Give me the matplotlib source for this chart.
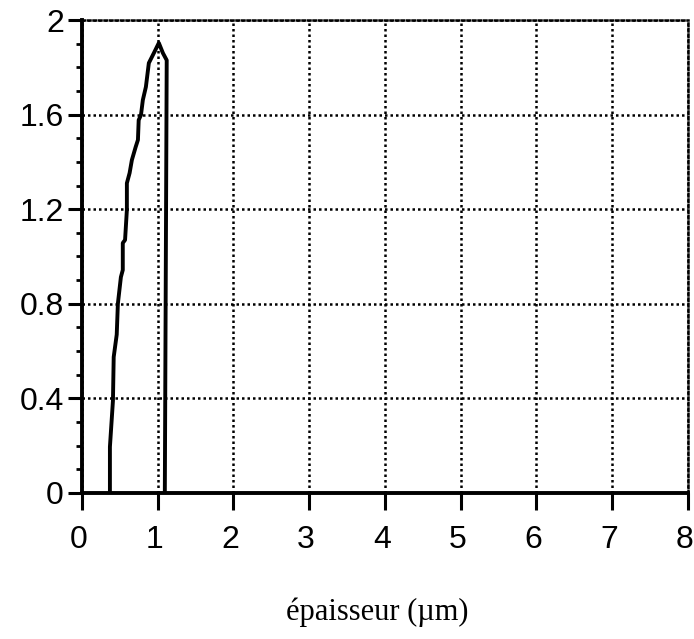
import matplotlib
matplotlib.use("Agg")
import matplotlib.pyplot as plt
import matplotlib.transforms as mtransforms
from matplotlib.ticker import FixedLocator, MultipleLocator

# thickness profile (x in um, y value)
epaisseur = [0.37, 0.37, 0.41, 0.42, 0.46, 0.475, 0.515, 0.54, 0.54, 0.57,
             0.594, 0.594, 0.63, 0.66, 0.71, 0.74, 0.75, 0.78, 0.805, 0.845,
             0.884, 0.95, 1.016, 1.07, 1.12, 1.095]
valeur = [0.0, 0.195, 0.39, 0.575, 0.67, 0.80, 0.913, 0.943, 1.057, 1.07,
          1.197, 1.31, 1.353, 1.408, 1.463, 1.493, 1.577, 1.598, 1.662, 1.717,
          1.818, 1.86, 1.903, 1.86, 1.83, 0.0]

xticks = [0, 1, 2, 3, 4, 5, 6, 7, 8]
yticks = [0, 0.4, 0.8, 1.2, 1.6, 2]
ytick_labels = ["0", "0.4", "0.8", "1.2", "1.6", "2"]

fig = plt.figure(figsize=(6.94, 6.39), dpi=100)
ax = fig.add_axes((0.118, 0.2285, 0.873, 0.7402))

ax.plot(epaisseur, valeur, color="black", lw=2.8, solid_joinstyle="round")

ax.set_xlim(0, 8)
ax.set_ylim(0, 2)
ax.xaxis.set_major_locator(FixedLocator(xticks))
ax.set_yticks(yticks)
ax.set_yticklabels(ytick_labels)
ax.yaxis.set_minor_locator(MultipleLocator(0.1))

ax.grid(True, which="major", color="black", linestyle=(0, (1, 1.2)), lw=1.8)

for side in ("left", "bottom"):
    ax.spines[side].set_linewidth(2.8)
for side in ("top", "right"):
    ax.spines[side].set_linewidth(1.8)
    ax.spines[side].set_linestyle((0, (1, 1.2)))

ax.tick_params(axis="both", which="major", direction="out", length=10,
               width=2.2, labelsize=23, pad=3)
ax.tick_params(axis="x", which="major", length=12, pad=11)
ax.tick_params(axis="y", which="minor", direction="out", length=4.5, width=2)

# nudge the x tick labels slightly left of their ticks
shift = mtransforms.ScaledTranslation(-3 / 100, 0, fig.dpi_scale_trans)
for lab in ax.get_xticklabels():
    lab.set_transform(lab.get_transform() + shift)
for lab in ax.get_xticklabels() + ax.get_yticklabels():
    lab.set_family("Liberation Sans")

ax.set_xlabel("épaisseur (µm)", family="Liberation Serif", fontsize=22,
              va="center")
ax.xaxis.set_label_coords(0.488, -0.2516)

fig.savefig("out.png", dpi=100)
